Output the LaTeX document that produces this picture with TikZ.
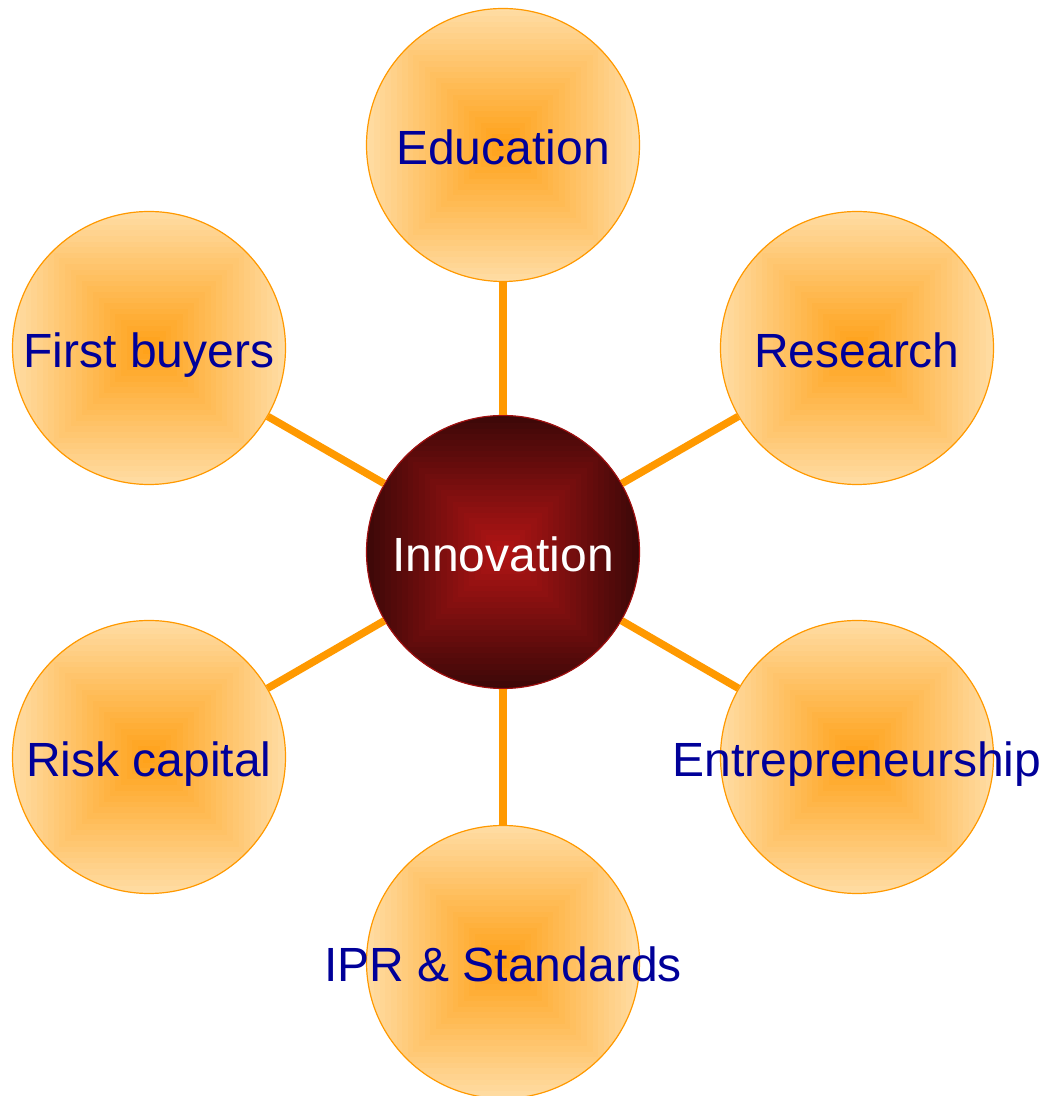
\documentclass[tikz,border=0pt]{standalone}
\usepackage{fontspec}
\setmainfont{Liberation Sans}
\usetikzlibrary{positioning}

\definecolor{spoke}{HTML}{FF9900}
\definecolor{satin}{HTML}{FFA21A}
\definecolor{satout}{HTML}{FFDDA6}
\definecolor{hubin}{HTML}{B01414}
\definecolor{hubout}{HTML}{3A0808}
\definecolor{hubrim}{HTML}{A01010}
\definecolor{labelblue}{HTML}{000099}

% nested squares, from outer colour to inner colour
\newcommand{\squareshade}[2]{%
  \foreach \k in {0,...,24}{%
    \pgfmathsetmacro{\mix}{100*\k/24}
    \pgfmathsetmacro{\half}{140*(1-\k/25)}
    \fill[#1!\mix!#2] ([shift={(-\half,-\half)}]path picture bounding box.center)
      rectangle ([shift={(\half,\half)}]path picture bounding box.center);
  }}

\begin{document}
\begin{tikzpicture}[x=1pt, y=1pt,
        bubbletext/.style={font=\fontsize{48}{56}\selectfont, text height=40pt, text depth=0pt, inner sep=0pt},
        satellite/.style={circle, minimum size=273pt, inner sep=0pt, draw=spoke, line width=1.2pt,
          path picture={\squareshade{satin}{satout}},
          label={[bubbletext, text=labelblue]center:#1}},
        hub/.style={circle, minimum size=273pt, inner sep=0pt, draw=hubrim, line width=1.2pt,
          path picture={\squareshade{hubin}{hubout}},
          label={[bubbletext, text=white]center:#1}},
        spoke_style/.style={draw=spoke, line width=7.5pt}]
        \useasboundingbox (0,0) rectangle (1045,1096);
        \node[hub=Innovation] (hub) at (503, 544) {};
        \node[satellite=Education] (edu) at (503, 951) {};
        \node[satellite=Research] (res) at (857, 748) {};
        \node[satellite=Entrepreneurship] (ent) at (857, 339) {};
        \node[satellite={IPR \& Standards}] (ipr) at (503, 134) {};
        \node[satellite={Risk capital}] (risk) at (149, 339) {};
        \node[satellite={First buyers}] (buy) at (149, 748) {};
        \foreach \s in {edu,res,ent,ipr,risk,buy}
          \draw[spoke_style] (hub) -- (\s);
      \end{tikzpicture}
\end{document}
